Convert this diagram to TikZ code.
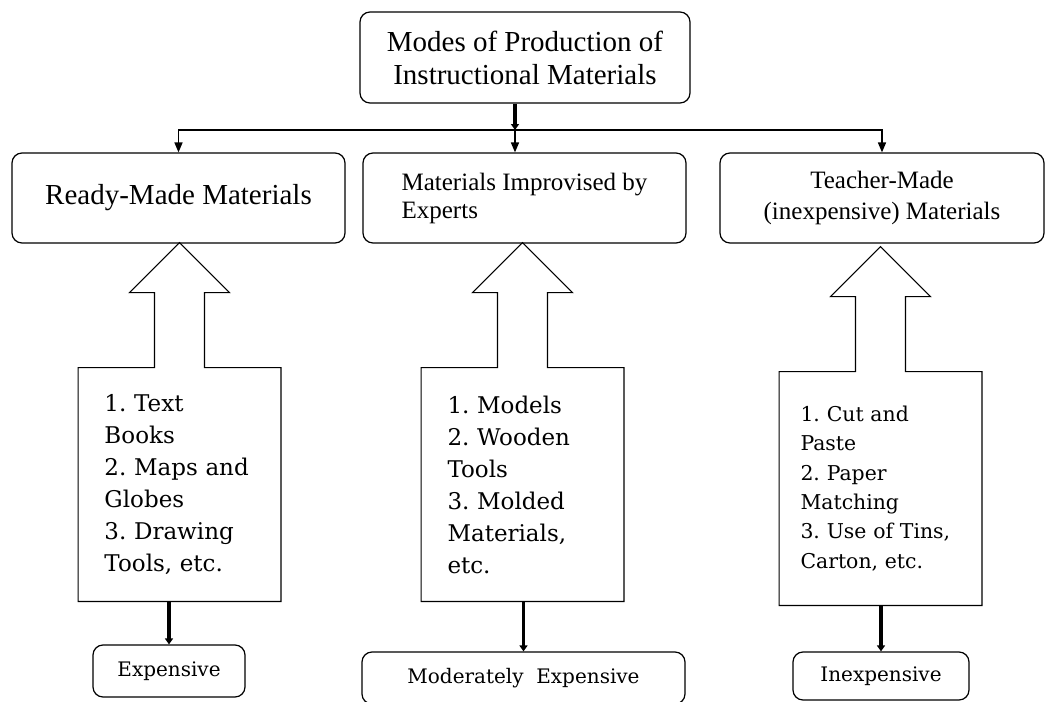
\documentclass[tikz,border=0pt]{standalone}
\usepackage{fontspec}
\setmainfont{Liberation Serif}
\newfontfamily\listfont{DejaVu Serif}
\usetikzlibrary{arrows.meta}
\frenchspacing
\tikzset{
  mode/.style   = { draw, rounded corners=5pt, line width=0.6pt, align=center, font=\fontsize{14.5}{16.5}\selectfont },
  kind/.style   = { mode, minimum height=45pt },
  items/.style  = { text width=75pt, inner xsep=13pt, minimum height=116.5pt, align=left, font=\listfont\fontsize{11.5}{16}\selectfont },
  hollow/.style = { line width=0.6pt },
  cost/.style   = { draw, rounded corners=5pt, line width=0.6pt, font=\listfont\fontsize{10}{12}\selectfont },
  branch/.style = { line width=0.8pt, -{Triangle[length=5pt,width=4pt]} },
  heavy/.style  = { line width=1.6pt, -{Triangle[length=3pt,width=4pt]} }
}
\begin{document}
\begin{tikzpicture}[x=0.5pt,y=0.5pt]
  \useasboundingbox (0,0) rectangle (1046,-702);

  % Draw the main box and the three kinds
  \node[mode, minimum width=165pt, minimum height=45.5pt] (modes) at (525,-57.5) {Modes of Production of\\Instructional Materials};

  \node[kind, minimum width=166.5pt] (ready) at (178.5,-198) {Ready-Made Materials};
  \node[kind, minimum width=161.5pt, align=left, font=\fontsize{12.5}{14}\selectfont] (expert) at (524.5,-198) {Materials Improvised by\\Experts};
  \node[kind, minimum width=162pt, font=\fontsize{12.5}{15.5}\selectfont] (teacher) at (882,-198) {Teacher-Made\\(inexpensive) Materials};

  \coordinate (split) at (515,-130);
  \draw[heavy]  (modes.south -| split) -- (split);
  \draw[branch] (split) -| (ready.north);
  \draw[branch] (split) -- (split |- expert.north);
  \draw[branch] (split) -| (teacher.north);

  % Draw the lists with their hollow arrows
  \node[items] (readylist) at (179.5,-484.5) {1. Text\\Books\\2. Maps and\\Globes\\3. Drawing\\Tools, etc.};
  \node[items] (expertlist) at (522.5,-484.5) {1. Models\\2. Wooden\\Tools\\3. Molded\\Materials,\\etc.};
  \node[items, text width=80pt, inner xsep=10.5pt, font=\listfont\fontsize{10.2}{14.7}\selectfont] (teacherlist) at (880.5,-488.5) {1. Cut and\\Paste\\2. Paper\\Matching\\3. Use of Tins,\\Carton, etc.};

  \draw[hollow] (readylist.south west) -- (readylist.north west) -- ([xshift=-12.5pt]readylist.north) -- ++(0,75) -- ++(-25,0) -- ++(50,50) -- ++(50,-50) -- ++(-25,0) -- ++(0,-75) -- (readylist.north east) -- (readylist.south east) -- cycle;
  \draw[hollow] (expertlist.south west) -- (expertlist.north west) -- ([xshift=-12.5pt]expertlist.north) -- ++(0,75) -- ++(-25,0) -- ++(50,50) -- ++(50,-50) -- ++(-25,0) -- ++(0,-75) -- (expertlist.north east) -- (expertlist.south east) -- cycle;
  \draw[hollow] (teacherlist.south west) -- (teacherlist.north west) -- ([xshift=-12.5pt]teacherlist.north) -- ++(0,75) -- ++(-25,0) -- ++(50,50) -- ++(50,-50) -- ++(-25,0) -- ++(0,-75) -- (teacherlist.north east) -- (teacherlist.south east) -- cycle;

  % Draw costs
  \node[cost, minimum width=76pt, minimum height=26pt] (expensive) at (169,-671) {Expensive};
  \node[cost, minimum width=161.5pt, minimum height=26pt] (moderate) at (523.5,-678) {Moderately~ Expensive};
  \node[cost, minimum width=88pt, minimum height=24pt] (inexpensive) at (881,-676) {Inexpensive};

  \draw[heavy] (expensive.north |- readylist.south) -- (expensive.north);
  \draw[heavy] (moderate.north |- expertlist.south) -- (moderate.north);
  \draw[heavy] (inexpensive.north |- teacherlist.south) -- (inexpensive.north);
\end{tikzpicture}
\end{document}
